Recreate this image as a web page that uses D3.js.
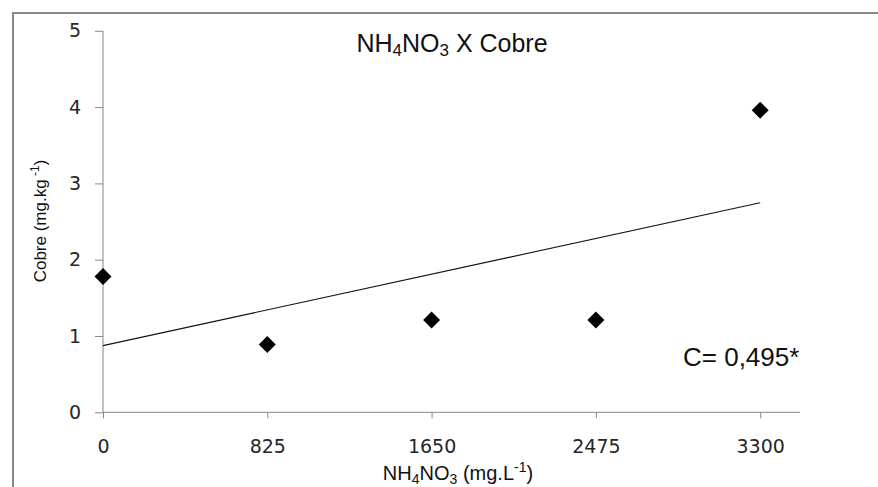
<!DOCTYPE html>
<html>
<head>
<meta charset="utf-8">
<script src="https://cdn.jsdelivr.net/npm/d3@7"></script>
<style>
  html, body { margin: 0; padding: 0; background: #fff; }
  svg { display: block; }
</style>
</head>
<body>
<svg id="chart" width="878" height="487"></svg>
<script>
// ---- data ----
const doses = [0, 825, 1650, 2475, 3300];          // NH4NO3 (mg.L-1)
const cobre = [1.78, 0.89, 1.21, 1.21, 3.96];       // Cobre (mg.kg-1)
const xTickValues = [0, 825, 1650, 2475, 3300];
const yTickValues = [0, 1, 2, 3, 4, 5];
const xDomain = [0, 3500];
const yDomain = [0, 5];
const correlationLabel = "C= 0,495*";

// ---- layout ----
const svg = d3.select("#chart");
const W = 878, H = 487;
const plot = { left: 103, right: 800, top: 30.8, bottom: 412.3 };

const x = d3.scaleLinear().domain(xDomain).range([plot.left, plot.right]);
const y = d3.scaleLinear().domain(yDomain).range([plot.bottom, plot.top]);

// outer border (top and left visible)
svg.append("path")
  .attr("d", `M13,${H} L13,13 L${W},13`)
  .attr("fill", "none")
  .attr("stroke", "#878787")
  .attr("stroke-width", 2);

// title
const title = svg.append("text")
  .attr("x", 452).attr("y", 52)
  .attr("text-anchor", "middle")
  .attr("font-family", "Liberation Sans, Arial, sans-serif")
  .attr("font-size", 25)
  .attr("fill", "#111");
title.append("tspan").text("NH");
title.append("tspan").attr("font-size", 17).attr("dy", 4).text("4");
title.append("tspan").attr("dy", -4).text("NO");
title.append("tspan").attr("font-size", 17).attr("dy", 4).text("3");
title.append("tspan").attr("dy", -4).text(" X Cobre");

// y axis
const yAxis = d3.axisLeft(y).tickValues(yTickValues).tickSize(8).tickPadding(14)
  .tickFormat(d3.format("d"));
const gy = svg.append("g").attr("transform", `translate(${plot.left},0)`).call(yAxis);
gy.select(".domain").attr("d", `M0,${plot.top}V${plot.bottom}`).attr("stroke", "#868686");
gy.selectAll(".tick line").attr("stroke", "#868686");
gy.selectAll(".tick text")
  .attr("font-family", "DejaVu Sans, sans-serif")
  .attr("font-size", 19)
  .attr("fill", "#262626");

// x axis
const xAxis = d3.axisBottom(x).tickValues(xTickValues).tickSize(6).tickPadding(21)
  .tickFormat(d3.format("d"));
const gx = svg.append("g").attr("transform", `translate(0,${plot.bottom})`).call(xAxis);
gx.select(".domain").attr("d", `M${plot.left},0H${plot.right}`).attr("stroke", "#868686");
gx.selectAll(".tick line").attr("stroke", "#868686");
gx.selectAll(".tick text")
  .attr("font-family", "DejaVu Sans, sans-serif")
  .attr("font-size", 19)
  .attr("fill", "#262626");

// y axis title
const yt = svg.append("text")
  .attr("transform", `translate(46,221) rotate(-90)`)
  .attr("text-anchor", "middle")
  .attr("font-family", "Liberation Sans, Arial, sans-serif")
  .attr("font-size", 17)
  .attr("fill", "#111");
yt.append("tspan").text("Cobre (mg.kg");
yt.append("tspan").attr("font-size", 12).attr("dy", -7).text(" -1");
yt.append("tspan").attr("dy", 7).text(")");

// x axis title
const xt = svg.append("text")
  .attr("x", 458).attr("y", 480)
  .attr("text-anchor", "middle")
  .attr("font-family", "Liberation Sans, Arial, sans-serif")
  .attr("font-size", 20)
  .attr("fill", "#111");
xt.append("tspan").text("NH");
xt.append("tspan").attr("font-size", 14).attr("dy", 4).text("4");
xt.append("tspan").attr("dy", -4).text("NO");
xt.append("tspan").attr("font-size", 14).attr("dy", 4).text("3");
xt.append("tspan").attr("dy", -4).text(" (mg.L");
xt.append("tspan").attr("font-size", 14).attr("dy", -8).text("-1");
xt.append("tspan").attr("dy", 8).text(")");

// linear trend line (least squares from data)
const n = doses.length;
const mx = d3.mean(doses), my = d3.mean(cobre);
let sxy = 0, sxx = 0;
for (let i = 0; i < n; i++) {
  sxy += (doses[i] - mx) * (cobre[i] - my);
  sxx += (doses[i] - mx) ** 2;
}
const slope = sxy / sxx, intercept = my - slope * mx;
const x0 = d3.min(doses), x1 = d3.max(doses);
svg.append("line")
  .attr("x1", x(x0)).attr("y1", y(intercept + slope * x0))
  .attr("x2", x(x1)).attr("y2", y(intercept + slope * x1))
  .attr("stroke", "#111")
  .attr("stroke-width", 1.1);

// points (diamonds)
const diamond = d3.symbol().type(d3.symbolSquare).size(144);
svg.append("g").selectAll("path")
  .data(doses.map((d, i) => ({ x: d, y: cobre[i] })))
  .join("path")
  .attr("d", diamond)
  .attr("transform", d => `translate(${x(d.x)},${y(d.y)}) rotate(45)`)
  .attr("fill", "#000");

// correlation annotation
svg.append("text")
  .attr("x", 683).attr("y", 366)
  .attr("font-family", "Liberation Sans, Arial, sans-serif")
  .attr("font-size", 26)
  .attr("fill", "#111")
  .text(correlationLabel);
</script>
</body>
</html>
